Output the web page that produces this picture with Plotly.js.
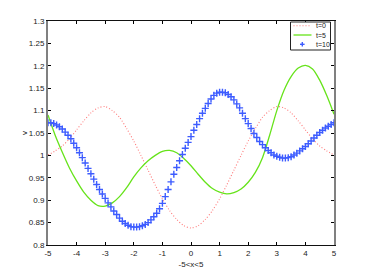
<!DOCTYPE html>
<html><head><meta charset="utf-8">
<script src="https://cdn.plot.ly/plotly-3.0.1.min.js"></script>
<style>html,body{margin:0;padding:0;background:#fff}#c{width:369px;height:276px}</style>
</head><body><div id="c"></div>
<script>
var xLine = [-5,-4.75,-4.5,-4.25,-4,-3.75,-3.5,-3.25,-3,-2.75,-2.5,-2.25,-2,-1.75,-1.5,-1.25,-1,-0.75,-0.5,-0.25,0,0.25,0.5,0.75,1,1.25,1.5,1.75,2,2.25,2.5,2.75,3,3.25,3.5,3.75,4,4.25,4.5,4.75,5];
var vT0 = [1.001,1.010,1.021,1.037,1.057,1.077,1.095,1.106,1.109,1.100,1.085,1.060,1.032,1.000,0.967,0.934,0.903,0.877,0.857,0.843,0.838,0.843,0.857,0.877,0.903,0.934,0.967,1.000,1.032,1.060,1.085,1.100,1.109,1.106,1.095,1.077,1.057,1.037,1.021,1.010,1.001];
var vT5 = [1.090,1.045,1.007,0.972,0.943,0.918,0.900,0.888,0.887,0.894,0.908,0.928,0.952,0.972,0.988,1.000,1.009,1.011,1.006,0.993,0.977,0.958,0.940,0.926,0.918,0.914,0.917,0.925,0.940,0.962,0.995,1.045,1.100,1.145,1.176,1.195,1.201,1.193,1.168,1.133,1.092];
var xMark = [-5,-4.9,-4.8,-4.7,-4.6,-4.5,-4.4,-4.3,-4.2,-4.1,-4,-3.9,-3.8,-3.7,-3.6,-3.5,-3.4,-3.3,-3.2,-3.1,-3,-2.9,-2.8,-2.7,-2.6,-2.5,-2.4,-2.3,-2.2,-2.1,-2,-1.9,-1.8,-1.7,-1.6,-1.5,-1.4,-1.3,-1.2,-1.1,-1,-0.9,-0.8,-0.7,-0.6,-0.5,-0.4,-0.3,-0.2,-0.1,0,0.1,0.2,0.3,0.4,0.5,0.6,0.7,0.8,0.9,1,1.1,1.2,1.3,1.4,1.5,1.6,1.7,1.8,1.9,2,2.1,2.2,2.3,2.4,2.5,2.6,2.7,2.8,2.9,3,3.1,3.2,3.3,3.4,3.5,3.6,3.7,3.8,3.9,4,4.1,4.2,4.3,4.4,4.5,4.6,4.7,4.8,4.9,5];
var vT10 = [1.073,1.073,1.071,1.068,1.064,1.059,1.052,1.045,1.037,1.027,1.017,1.006,0.995,0.983,0.971,0.959,0.947,0.935,0.924,0.914,0.904,0.894,0.885,0.876,0.868,0.860,0.853,0.848,0.844,0.841,0.840,0.840,0.841,0.843,0.846,0.850,0.856,0.863,0.871,0.881,0.893,0.908,0.924,0.941,0.958,0.973,0.988,1.002,1.016,1.029,1.042,1.056,1.069,1.082,1.094,1.105,1.116,1.126,1.134,1.139,1.141,1.141,1.140,1.136,1.131,1.124,1.115,1.106,1.094,1.082,1.071,1.060,1.049,1.040,1.031,1.024,1.017,1.011,1.006,1.001,0.998,0.996,0.994,0.994,0.995,0.997,1.001,1.005,1.010,1.015,1.020,1.026,1.032,1.039,1.045,1.051,1.056,1.061,1.065,1.069,1.073];
var names = ["t=0","t=5","t=10"];
var xTicks = [-5,-4,-3,-2,-1,0,1,2,3,4,5];
var yTicks = [0.8,0.85,0.9,0.95,1,1.05,1.1,1.15,1.2,1.25,1.3];
var yTickText = ["0.8","0.85","0.9","0.95","1","1.05","1.1","1.15","1.2","1.25","1.3"];

var RED = '#ff7a7a', GREEN = '#66e31a', BLUE = '#3d5cff';
var FONT = 'Liberation Sans, Arial, sans-serif';
var traces = [
 {x:xLine, y:vT0, name:names[0], mode:'lines', line:{color:RED, dash:'1px,2px', width:1.1, shape:'spline', smoothing:0.8}},
 {x:xLine, y:vT5, name:names[1], mode:'lines', line:{color:GREEN, width:1.3, shape:'spline', smoothing:0.8}},
 {x:xMark, y:vT10, name:names[2], mode:'markers', marker:{symbol:'cross-thin-open', size:5, line:{color:BLUE, width:1.4}, color:BLUE}}
];

var W=369, H=276, L=48, R=35, T=21, B=31;
var pw=W-L-R, ph=H-T-B;
function px(x){return (x-L)/pw;}
function py(y){return 1-(y-T)/ph;}
var shapes = [
 {type:'rect', xref:'paper', yref:'paper', x0:px(290.5), x1:px(330.5), y0:py(50), y1:py(22), line:{color:'#222', width:1}, fillcolor:'#fff', layer:'above'},
 {type:'line', xref:'paper', yref:'paper', x0:px(293.5), x1:px(311.5), y0:py(25.7), y1:py(25.7), line:{color:RED, width:1.1, dash:'1px,2px'}, layer:'above'},
 {type:'line', xref:'paper', yref:'paper', x0:px(293.5), x1:px(311.5), y0:py(35), y1:py(35), line:{color:GREEN, width:1.3}, layer:'above'},
 {type:'line', xref:'paper', yref:'paper', x0:px(300), x1:px(304.6), y0:py(44.3), y1:py(44.3), line:{color:BLUE, width:1.4}, layer:'above'},
 {type:'line', xref:'paper', yref:'paper', x0:px(302.3), x1:px(302.3), y0:py(42), y1:py(46.6), line:{color:BLUE, width:1.4}, layer:'above'}
];
var annotations = names.map(function(n,i){
 return {xref:'paper', yref:'paper', x:px(313.5), y:py([25.7,35,44.3][i]), xanchor:'left', yanchor:'middle', text:n, showarrow:false, font:{family:FONT, size:7, color:'#222'}};
});
var ax = {ticks:'inside', ticklen:3, tickcolor:'#000', mirror:'ticks', showline:true, showgrid:false, zeroline:false, tickfont:{family:FONT, size:8, color:'#222'}};
var layout = {
 width:W, height:H, paper_bgcolor:'#fff', plot_bgcolor:'#fff',
 margin:{l:L, r:R, t:T, b:B},
 showlegend:false,
 shapes:shapes, annotations:annotations,
 xaxis:Object.assign({}, ax, {range:[-5,5], linecolor:'#111', linewidth:1, tickvals:xTicks, ticktext:xTicks.map(String), title:{text:'-5<x<5', font:{family:FONT, size:8, color:'#222'}, standoff:4}}),
 yaxis:Object.assign({}, ax, {range:[0.8,1.3], linecolor:'#808080', linewidth:2, tickvals:yTicks, ticktext:yTickText, title:{text:'v', font:{family:FONT, size:8, color:'#222'}, standoff:0}})
};
Plotly.newPlot('c', traces, layout, {displayModeBar:false, staticPlot:true});
</script></body></html>
